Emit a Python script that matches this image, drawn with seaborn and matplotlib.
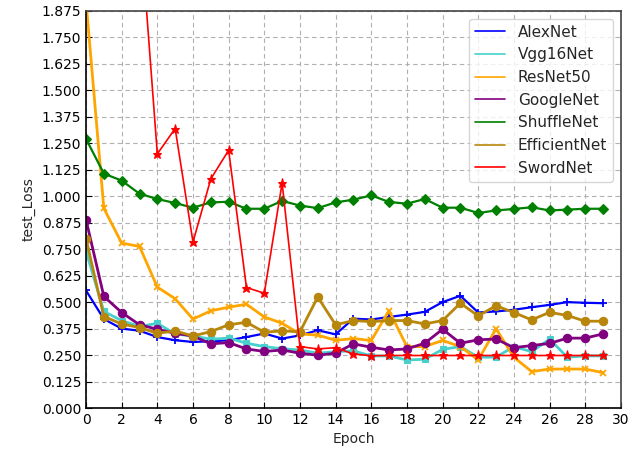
import numpy as np
import pandas as pd
import matplotlib
matplotlib.use("Agg")
import matplotlib.pyplot as plt
from matplotlib.lines import Line2D
from matplotlib.ticker import FormatStrFormatter
import seaborn as sns

epochs = list(range(30))
alexnet = [0.555, 0.42, 0.375, 0.365, 0.335, 0.32, 0.312, 0.315, 0.32, 0.335, 0.352, 0.328, 0.343, 0.367, 0.348,
           0.422, 0.418, 0.43, 0.441, 0.454, 0.5, 0.53, 0.451, 0.456, 0.464, 0.476, 0.487, 0.5, 0.497, 0.495]
vgg16net = [0.74, 0.456, 0.413, 0.385, 0.40, 0.35, 0.34, 0.325, 0.33, 0.306, 0.29, 0.28, 0.274, 0.259, 0.266,
            0.27, 0.246, 0.246, 0.227, 0.23, 0.277, 0.29, 0.24, 0.24, 0.29, 0.266, 0.325, 0.24, 0.246, 0.246]
resnet50 = [1.92, 0.943, 0.779, 0.763, 0.571, 0.516, 0.42, 0.459, 0.476, 0.49, 0.43, 0.40, 0.35, 0.344, 0.32,
            0.328, 0.319, 0.46, 0.29, 0.29, 0.319, 0.29, 0.227, 0.374, 0.24, 0.172, 0.184, 0.184, 0.184, 0.167]
googlenet = [0.889, 0.527, 0.451, 0.393, 0.372, 0.353, 0.34, 0.303, 0.309, 0.279, 0.267, 0.274, 0.259, 0.249, 0.259,
             0.303, 0.287, 0.274, 0.279, 0.306, 0.372, 0.306, 0.322, 0.326, 0.285, 0.295, 0.305, 0.33, 0.33, 0.35]
shufflenet = [1.271, 1.107, 1.074, 1.012, 0.987, 0.968, 0.946, 0.971, 0.974, 0.941, 0.941, 0.978, 0.956, 0.944, 0.971,
              0.984, 1.004, 0.973, 0.965, 0.987, 0.946, 0.946, 0.921, 0.933, 0.940, 0.948, 0.933, 0.937, 0.941, 0.941]
efficientnet = [0.80, 0.432, 0.397, 0.38, 0.353, 0.364, 0.34, 0.361, 0.393, 0.405, 0.358, 0.364, 0.36, 0.524, 0.393,
                0.413, 0.408, 0.413, 0.413, 0.397, 0.413, 0.495, 0.435, 0.483, 0.451, 0.416, 0.452, 0.437, 0.41, 0.41]
swordnet = [2.9, 2.65, 2.45, 2.32, 1.2, 1.32, 0.784, 1.082, 1.217, 0.569, 0.542, 1.063, 0.29, 0.279, 0.285,
            0.255, 0.247, 0.248, 0.248, 0.248, 0.248, 0.248, 0.248, 0.248, 0.248, 0.248, 0.248, 0.248, 0.248, 0.248]

model_names = ["AlexNet", "Vgg16Net", "ResNet50", "GoogleNet", "ShuffleNet", "EfficientNet", "SwordNet"]
series = [alexnet, vgg16net, resnet50, googlenet, shufflenet, efficientnet, swordnet]
colors = ["blue", "mediumturquoise", "orange", "purple", "green", "darkgoldenrod", "red"]
markers = ["+", "s", "x", "o", "D", "o", "*"]
msizes = [6, 5, 5, 6, 5, 6, 6.5]
lwidths = [1.6, 2.0, 2.0, 2.0, 1.6, 2.0, 1.2]
ytick_vals = [i * 0.125 for i in range(16)]
xtick_vals = list(range(0, 31, 2))

sns.set_style("white")
plt.rcParams['font.family'] = ['DejaVu Sans']

fig = plt.figure(figsize=(6.42, 4.54), dpi=100)
ax = fig.add_axes([0.134, 0.1013, 0.833, 0.8745])

for name, vals, c, m, ms, lw in zip(model_names, series, colors, markers, msizes, lwidths):
    df = pd.DataFrame({"Epoch": epochs, "test_Loss": vals})
    sns.lineplot(data=df, x="Epoch", y="test_Loss", ax=ax, color=c, marker=m,
                 markersize=ms, linewidth=lw, markeredgecolor=c,
                 markeredgewidth=1.3 if m in ("+", "x") else 0.8, legend=False)

ax.set_xlim(0, 30)
ax.set_ylim(0, 1.875)
ax.set_xticks(xtick_vals)
ax.set_yticks(ytick_vals)
ax.yaxis.set_major_formatter(FormatStrFormatter('%.3f'))
ax.tick_params(direction='in', length=4, labelsize=10, colors='black', left=True, bottom=True)
ax.grid(True, linestyle=(0, (4, 3)), color='#b0b0b0', linewidth=0.8)
ax.set_xlabel("Epoch", fontsize=10)
ax.set_ylabel("test_Loss", fontsize=10)
for side in ["left", "bottom"]:
    ax.spines[side].set_color("black")
    ax.spines[side].set_linewidth(1.2)
for side in ["top", "right"]:
    ax.spines[side].set_color("#444444")
    ax.spines[side].set_linewidth(1.2)

handles = [Line2D([0], [0], color=c, lw=1.2) for c in colors]
ax.legend(handles, model_names, loc='upper right', fontsize=11, frameon=True,
          fancybox=True, framealpha=0.8, edgecolor='#cccccc', borderaxespad=0.5)

fig.savefig("out.png", dpi=100)
